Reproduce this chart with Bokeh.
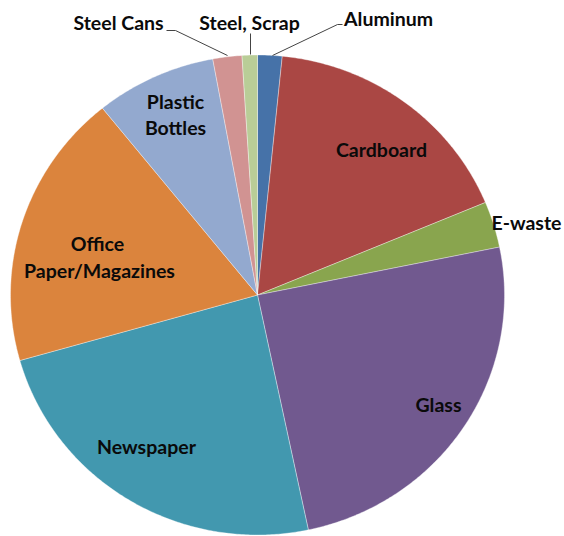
import numpy as np
from bokeh.plotting import figure
from bokeh.models import Range1d, ColumnDataSource
from bokeh.core.properties import value
from bokeh.embed import file_html
from bokeh.resources import INLINE

# ---- data (clockwise from 12 o'clock) ----
categories = ["Aluminum", "Cardboard", "E-waste", "Glass", "Newspaper",
              "Office Paper/Magazines", "Plastic Bottles", "Steel Cans", "Steel, Scrap"]
shares = [1.6, 17.1, 3.1, 24.9, 23.9, 18.6, 7.9, 1.9, 1.0]
colors = ["#4672A8", "#AA4744", "#89A54E", "#71598F", "#4298AF",
          "#DB843D", "#93A9CF", "#D19392", "#B9CD97"]

# ---- layout (pixel space) ----
W, H = 564, 536
CX, CY = 257.0, 294.5
RX, RY = 247.0, 240.0

p = figure(width=W, height=H, output_backend="svg", toolbar_location=None,
           x_range=Range1d(0, W), y_range=Range1d(H, 0),
           x_axis_location=None, y_axis_location=None, min_border=0)
p.grid.visible = False
p.outline_line_color = None
p.background_fill_color = "white"
p.border_fill_color = "white"

vals = np.array(shares, dtype=float)
frac = vals / vals.sum()
ends = np.cumsum(frac) * 2 * np.pi
starts = ends - frac * 2 * np.pi

xs, ys = [], []
for a0, a1 in zip(starts, ends):
    n = max(int((a1 - a0) / (2 * np.pi) * 720), 4)
    t = np.linspace(a0, a1, n)
    px = np.concatenate([[CX], CX + RX * np.sin(t), [CX]])
    py = np.concatenate([[CY], CY - RY * np.cos(t), [CY]])
    xs.append(px.tolist())
    ys.append(py.tolist())

p.patches(xs=xs, ys=ys, fill_color=colors, line_color="white", line_width=0.6,
          line_alpha=0.6)

# ---- labels ----
label_text = ["Cardboard", "E-waste", "Glass", "Newspaper", "Office",
              "Paper/Magazines", "Plastic", "Bottles",
              "Steel Cans", "Steel, Scrap", "Aluminum"]
label_x = [381, 561, 438, 146, 97, 99, 175, 175, 118, 249, 388]
label_y = [149, 222, 404, 446, 243, 270, 101, 127, 22, 22, 18]
label_align = ["center", "right", "center", "center", "center", "center",
               "center", "center", "center", "center", "center"]
src = ColumnDataSource(dict(x=label_x, y=label_y, t=label_text, a=label_align))
p.text(x="x", y="y", text="t", source=src, text_align="a",
       text_baseline="middle", text_font=value("Lato"), text_font_style="bold",
       text_font_size="19.5px", text_color="#0a0a0a")

# leader lines
p.line(x=[166, 175, 227], y=[30, 30, 55], line_color="#444444", line_width=1)
p.line(x=[250, 250], y=[33, 54], line_color="#444444", line_width=1)
p.line(x=[272, 337, 342], y=[55, 24, 24], line_color="#444444", line_width=1)

open("out.html", "w").write(file_html(p, INLINE))
